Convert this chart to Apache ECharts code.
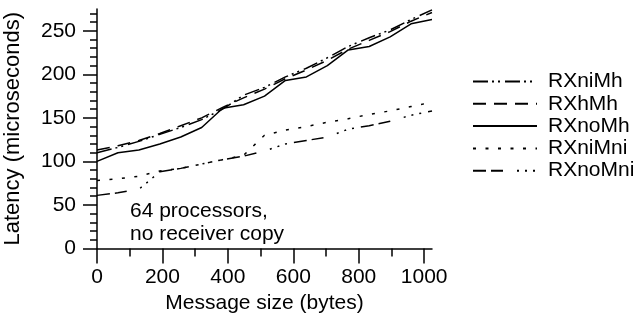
<!DOCTYPE html>
<html>
<head>
<meta charset="utf-8">
<script src="https://cdn.jsdelivr.net/npm/echarts@6/dist/echarts.min.js"></script>
<style>
html,body{margin:0;padding:0;background:#fff;}
#chart{width:634px;height:325px;}
</style>
</head>
<body>
<div id="chart"></div>
<script>
// ---- data ----
const messageSizes = [0,64,128,192,256,320,384,448,512,576,640,704,768,832,896,960,1024];
const seriesNames = ['RXniMh','RXhMh','RXnoMh','RXniMni','RXnoMni'];
const RXniMh  = [110,116,123,131,139,148,160,176,185,197,207,219,232,242,251,263,274];
const RXhMh   = [113,118,124,132,141,150,162,173,183,195,205,216,229,239,249,261,271];
const RXnoMh  = [100,110,113,120,128,139,161,165,175,193,197,210,228,232,243,258,263];
const RXniMni = [78,80,83,89,92,97,102,107,130,136,140,145,149,154,158,163,168];
const RXnoMni = [61,64,68,88,92,97,102,106,112,120,124,128,137,141,146,153,158];
const xMajorTicks = [0,200,400,600,800,1000];
const xMinorTicks = [100,300,500,700,900];
const yMajorTicks = [0,50,100,150,200,250];
const yMinorTicks = [10,20,30,40,60,70,80,90,110,120,130,140,160,170,180,190,210,220,230,240,260,270];
const annotation = '64 processors,\nno receiver copy';

const FONT = 'Liberation Sans';
const FS = 21;
const dashes = {
  RXniMh: [15,4,2,4,2,5],
  RXhMh: [13,8],
  RXnoMh: 'solid',
  RXniMni: [3,9.5],
  RXnoMni: [13,5,12,14,2,6,2,6,2,7]
};
const values = {RXniMh, RXhMh, RXnoMh, RXniMni, RXnoMni};

const chart = echarts.init(document.getElementById('chart'), null, {renderer:'canvas'});
const axisCommon = {
  type:'value', min:0,
  splitLine:{show:false}, minorTick:{show:false}, minorSplitLine:{show:false}
};
const plain = v => String(v);
const option = {
  animation:false,
  backgroundColor:'#fff',
  textStyle:{fontFamily:FONT, color:'#000'},
  grid:{left:97, right:202, top:9, bottom:76.5, containLabel:false, outerBoundsMode:'none'},
  xAxis:[
    Object.assign({}, axisCommon, {
      max:1024, position:'bottom',
      axisLine:{show:true, lineStyle:{color:'#000', width:1.5}},
      axisTick:{show:true, customValues:xMajorTicks, length:15, inside:false, lineStyle:{color:'#000', width:1.5}},
      axisLabel:{show:true, customValues:xMajorTicks, formatter:plain, fontSize:FS, color:'#000', fontFamily:FONT, margin:18},
      name:'Message size (bytes)', nameLocation:'middle', nameGap:44,
      nameTextStyle:{fontSize:FS, color:'#000', fontFamily:FONT}
    }),
    Object.assign({}, axisCommon, {
      max:1024, position:'bottom',
      axisLine:{show:false},
      axisTick:{show:true, customValues:xMinorTicks, length:8, lineStyle:{color:'#000', width:1.5}},
      axisLabel:{show:false}
    })
  ],
  yAxis:[
    Object.assign({}, axisCommon, {
      max:275, position:'left',
      axisLine:{show:true, lineStyle:{color:'#000', width:1.5}},
      axisTick:{show:true, customValues:yMajorTicks, length:14, lineStyle:{color:'#000', width:1.5}},
      axisLabel:{show:true, customValues:yMajorTicks, formatter:plain, fontSize:FS, color:'#000', fontFamily:FONT, margin:21},
      name:'Latency (microseconds)', nameLocation:'middle', nameGap:73, nameRotate:90,
      nameTextStyle:{fontSize:22, color:'#000', fontFamily:FONT}
    }),
    Object.assign({}, axisCommon, {
      max:275, position:'left',
      axisLine:{show:false},
      axisTick:{show:true, customValues:yMinorTicks, length:7, lineStyle:{color:'#000', width:1.5}},
      axisLabel:{show:false}
    })
  ],
  legend:{
    orient:'vertical', left:472, top:70.5, padding:0,
    itemWidth:64, itemHeight:22, itemGap:0.3,
    itemStyle:{opacity:0, borderWidth:0},
    textStyle:{fontSize:FS, color:'#000', fontFamily:FONT, lineHeight:22, padding:[0,0,0,6]},
    data:seriesNames
  },
  graphic:[{
    type:'text', left:130, top:200,
    style:{text:annotation, font:FS+'px "'+FONT+'"', fill:'#000', lineHeight:23}
  }],
  series: seriesNames.map(n => ({
    name:n, type:'line', xAxisIndex:0, yAxisIndex:0,
    symbol:'none', showSymbol:false,
    data: messageSizes.map((x,i)=>[x, values[n][i]]),
    lineStyle:{color:'#000', width:1.5, type:dashes[n]},
    itemStyle:{color:'#000'},
    emphasis:{disabled:true}
  }))
};
chart.setOption(option);
</script>
</body>
</html>
